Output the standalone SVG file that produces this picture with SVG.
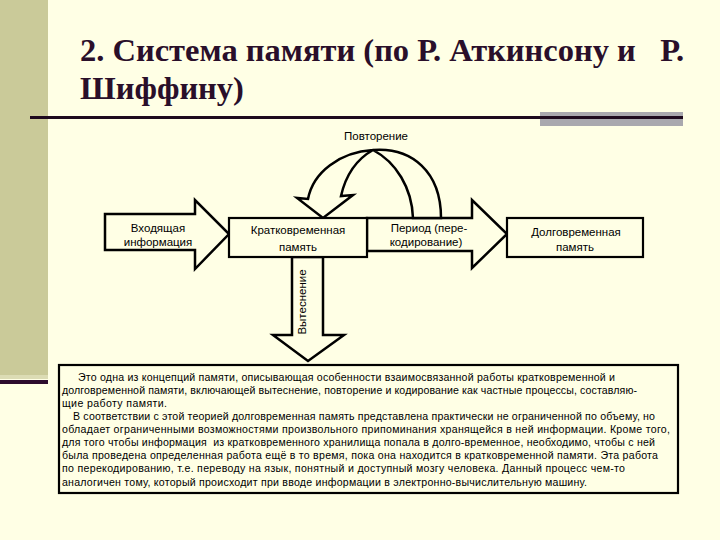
<svg xmlns="http://www.w3.org/2000/svg" width="720" height="540" viewBox="0 0 720 540">
<style>
.bg{fill:#FFFFE5}
.shape{fill:#FFFFE5;stroke:#000;stroke-width:2.5;stroke-linejoin:miter}
.box{fill:#FFFFE5;stroke:#000;stroke-width:2.2}
.lbl{font-family:"Liberation Sans",Arial,sans-serif;font-size:11.5px;fill:#000;text-anchor:middle}
.body{font-family:"Liberation Sans",Arial,sans-serif;font-size:10.6px;fill:#000}
.title{font-family:"Liberation Serif","Times New Roman",serif;font-weight:bold;font-size:32.5px;fill:#2A0F2A}
</style>
<rect class="bg" x="0" y="0" width="720" height="540"/>
<g id="decor">
<rect x="0" y="0" width="48" height="375" fill="#CACA99"/>
<rect x="0" y="375" width="48" height="4" fill="#DCDCB4"/>
<rect x="0" y="380" width="48" height="4" fill="#2D0C2D"/>
<rect x="540" y="112" width="143" height="14" fill="#A9A8AE"/>
<rect x="30" y="116" width="653" height="3" fill="#1E0A1E"/>
</g>
<g id="title">
<text class="title" x="80" y="61" xml:space="preserve">2. Система памяти (по Р. Аткинсону и   Р.</text>
<text class="title" x="80" y="99">Шиффину)</text>
</g>
<g id="connectors">
<g id="arrow-input">
<polygon class="shape" points="105,214 195,214 195,200 229,234 195,269 195,250 105,250"/>
<text class="lbl" x="158" y="232">Входящая</text>
<text class="lbl" x="158" y="246">информация</text>
</g>
<g id="arrow-period">
<polygon class="shape" points="367,218 472,218 472,200 507,234 472,268 472,251 367,251"/>
<text class="lbl" x="429" y="232">Период (пере-</text>
<text class="lbl" x="426" y="246">кодирование)</text>
</g>
<g id="arrow-repeat">
<path class="shape" d="M441,218 C441,172 412,147 373,150 C340,152 313,172 308,199 L297,198 L323,218 L353,195 L341,196 C346,174 357,159 373,150 C396,162 412,188 413,218 Z"/>
<text class="lbl" x="376" y="140">Повторение</text>
</g>
<g id="arrow-displace">
<polygon class="shape" points="292,257 323,257 323,335 344,335 308,361 273,335 292,335"/>
<text class="lbl" transform="translate(306,302) rotate(-90)">Вытеснение</text>
</g>
</g>
<g id="node-short">
<rect class="box" x="229" y="218" width="138" height="39"/>
<text class="lbl" x="298" y="234">Кратковременная</text>
<text class="lbl" x="298" y="251">память</text>
</g>
<g id="node-long">
<rect class="box" x="507" y="218" width="136" height="39"/>
<text class="lbl" x="576" y="236">Долговременная</text>
<text class="lbl" x="575" y="251">память</text>
</g>
<g id="node-text">
<rect class="box" x="59" y="365" width="619" height="128" stroke-width="2"/>
<text class="body" x="78" y="381" textLength="537" lengthAdjust="spacing">Это одна из концепций памяти, описывающая особенности взаимосвязанной работы кратковременной и</text>
<text class="body" x="62" y="394" textLength="575" lengthAdjust="spacing">долговременной памяти, включающей вытеснение, повторение и кодирование как частные процессы, составляю-</text>
<text class="body" x="62" y="407" textLength="105" lengthAdjust="spacing">щие работу памяти.</text>
<text class="body" x="73" y="420" textLength="582" lengthAdjust="spacing">В соответствии с этой теорией долговременная память представлена практически не ограниченной по объему, но</text>
<text class="body" x="62" y="433" textLength="608" lengthAdjust="spacing">обладает ограниченными возможностями произвольного припоминания хранящейся в ней информации. Кроме того,</text>
<text class="body" x="62" y="446" textLength="593" lengthAdjust="spacing" xml:space="preserve">для того чтобы информация  из кратковременного хранилища попала в долго-временное, необходимо, чтобы с ней</text>
<text class="body" x="62" y="459" textLength="596" lengthAdjust="spacing">была проведена определенная работа ещё в то время, пока она находится в кратковременной памяти. Эта работа</text>
<text class="body" x="62" y="472" textLength="563" lengthAdjust="spacing">по перекодированию, т.е. переводу на язык, понятный и доступный мозгу человека. Данный процесс чем-то</text>
<text class="body" x="62" y="486" textLength="525" lengthAdjust="spacing">аналогичен тому, который происходит при вводе информации в электронно-вычислительную машину.</text>
</g>
</svg>
